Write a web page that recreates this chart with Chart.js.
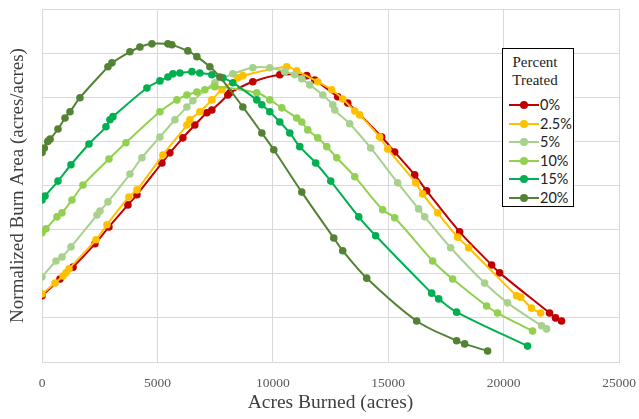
<!DOCTYPE html>
<html>
<head>
<meta charset="utf-8">
<script src="https://cdn.jsdelivr.net/npm/chart.js@4.4.1/dist/chart.umd.min.js"></script>
<style>
  html, body { margin: 0; padding: 0; background: #fff; }
  #wrap { position: relative; width: 639px; height: 419px; }
  #legend {
    position: absolute; left: 502px; top: 48px; width: 70px; height: 157px;
    border: 1.5px solid #000; background: #fff; box-sizing: content-box;
  }
  #legend .ttl {
    font-family: "Liberation Serif", serif; font-size: 15px; line-height: 18px;
    color: #222; text-align: center; margin-top: 4px; padding-right: 6px;
  }
  #legend .item { position: absolute; left: 6px; height: 18px; width: 66px; }
  #legend .ln { position: absolute; left: 0; top: 8px; width: 30px; height: 2px; }
  #legend .dot { position: absolute; left: 11px; top: 5px; width: 8px; height: 8px; border-radius: 50%; }
  #legend .lbl {
    position: absolute; left: 31px; top: 0; font-family: Lato, sans-serif;
    font-size: 14.5px; line-height: 18px; color: #222;
  }
</style>
</head>
<body>
<div id="wrap">
  <canvas id="c" width="639" height="419"></canvas>
  <div id="legend"></div>
</div>
<script>
// series labels and colours
const labels = ["0%", "2.5%", "5%", "10%", "15%", "20%"];
const colors = ["#C00000", "#FFC000", "#A9D18E", "#92D050", "#00B050", "#548235"];

// acres burned (x) / normalized burn area (y)
const x0 = [0, 779, 1342, 2294, 2900, 3723, 4113, 5195, 5541, 6104, 6623, 7143, 7359, 8052, 8139, 9134, 10303, 11472, 11818, 12814, 13247, 14719, 15281, 16147, 16667, 18095, 19481, 19827, 21991, 22251, 22511];
const y0 = [1.50, 1.88, 2.15, 2.68, 3.06, 3.56, 3.79, 4.51, 4.74, 5.08, 5.37, 5.65, 5.71, 6.05, 6.10, 6.35, 6.51, 6.49, 6.39, 6.01, 5.87, 5.10, 4.76, 4.24, 3.88, 2.95, 2.20, 2.02, 1.11, 1.00, 0.93];

const x25 = [0, 563, 909, 1039, 1169, 2338, 2814, 3766, 4113, 5238, 6277, 6407, 6840, 7359, 7792, 8485, 8701, 10606, 11039, 11948, 12554, 13030, 13550, 13766, 14632, 14978, 16190, 16494, 17143, 18009, 18485, 20563, 20736, 21212, 21602];
const y25 = [1.54, 1.79, 1.95, 2.02, 2.11, 2.77, 3.11, 3.74, 3.90, 4.69, 5.37, 5.49, 5.67, 5.94, 6.17, 6.44, 6.49, 6.69, 6.60, 6.35, 6.17, 5.96, 5.69, 5.60, 5.10, 4.83, 4.06, 3.81, 3.38, 2.83, 2.59, 1.50, 1.47, 1.22, 1.11];

const x5 = [0, 606, 866, 1255, 2381, 2511, 2857, 3810, 4329, 5108, 5758, 6277, 6537, 7489, 8268, 9134, 9870, 10519, 10952, 11255, 11602, 12165, 12597, 12684, 13333, 14242, 15411, 16320, 16580, 17706, 19177, 20173, 21645, 21861];
const y5 = [1.93, 2.29, 2.38, 2.61, 3.33, 3.42, 3.63, 4.26, 4.63, 5.10, 5.49, 5.78, 5.92, 6.33, 6.53, 6.67, 6.67, 6.58, 6.51, 6.42, 6.28, 6.05, 5.83, 5.71, 5.40, 4.85, 4.06, 3.47, 3.29, 2.59, 1.79, 1.34, 0.82, 0.75];

const x10 = [0, 173, 649, 866, 1299, 1775, 2900, 3636, 5108, 5844, 6277, 6710, 7056, 7489, 9307, 9870, 10390, 11039, 11255, 11515, 11948, 12338, 12771, 13550, 14762, 15281, 16926, 17792, 19264, 19740, 21255];
const y10 = [2.93, 3.02, 3.29, 3.38, 3.67, 4.01, 4.60, 4.97, 5.67, 5.94, 6.05, 6.12, 6.17, 6.24, 6.10, 5.94, 5.76, 5.53, 5.44, 5.26, 5.08, 4.88, 4.63, 4.20, 3.45, 3.27, 2.29, 1.88, 1.27, 1.11, 0.70];

const x15 = [0, 130, 693, 1255, 2035, 2771, 2944, 3074, 4545, 5108, 5455, 5671, 5974, 6494, 6840, 7359, 7835, 8268, 9307, 9524, 9870, 10303, 10736, 11169, 11861, 12511, 13723, 14459, 16883, 17186, 17965, 21039];
const y15 = [3.67, 3.76, 4.10, 4.47, 4.94, 5.33, 5.49, 5.56, 6.21, 6.37, 6.46, 6.53, 6.55, 6.58, 6.55, 6.51, 6.44, 6.33, 5.94, 5.83, 5.67, 5.44, 5.19, 4.88, 4.51, 4.10, 3.29, 2.86, 1.56, 1.43, 1.13, 0.36];

const x20 = [0, 100, 250, 350, 693, 996, 1212, 1645, 2857, 3030, 3810, 4242, 4762, 5455, 5628, 6320, 6710, 7273, 7706, 8701, 9524, 10043, 11255, 12641, 13030, 14069, 16234, 17965, 18312, 19307];
const y20 = [4.75, 4.85, 5.00, 5.05, 5.28, 5.53, 5.67, 5.99, 6.69, 6.78, 7.03, 7.14, 7.21, 7.21, 7.19, 7.05, 6.92, 6.69, 6.46, 5.78, 5.19, 4.81, 3.85, 2.81, 2.52, 1.90, 0.93, 0.48, 0.41, 0.25];

const xTicks = [0, 5000, 10000, 15000, 20000, 25000];

const seriesX = [x0, x25, x5, x10, x15, x20];
const seriesY = [y0, y25, y5, y10, y15, y20];

const datasets = labels.map((lab, i) => ({
  label: lab,
  data: seriesX[i].map((x, j) => ({ x: x, y: seriesY[i][j] })),
  showLine: true,
  borderColor: colors[i],
  backgroundColor: colors[i],
  borderWidth: 2,
  pointRadius: 3.8,
  pointBorderWidth: 0,
  tension: 0.35,
  order: labels.length - 1 - i,
}));

const serif = "'Liberation Serif', 'Times New Roman', serif";

new Chart(document.getElementById("c"), {
  type: "scatter",
  data: { datasets },
  options: {
    responsive: false,
    animation: false,
    layout: { padding: { top: 9, right: 20, left: 0, bottom: 0 } },
    plugins: { legend: { display: false }, tooltip: { enabled: false } },
    scales: {
      x: {
        type: "linear", min: 0, max: 25000,
        afterBuildTicks: (s) => { s.ticks = xTicks.map(v => ({ value: v })); },
        afterFit: (s) => { s.height = 57; s.paddingRight = 0; s.paddingLeft = 0; },
        grid: { color: "#d9d9d9", drawTicks: false },
        border: { color: "#d9d9d9" },
        ticks: { padding: 13, color: "#595959", font: { family: serif, size: 13.5 },
                 callback: (v) => String(v) },
        title: { display: true, text: "Acres Burned (acres)", color: "#404040",
                 font: { family: serif, size: 19.5 }, padding: { top: 3 } },
      },
      y: {
        min: 0, max: 8,
        ticks: { stepSize: 1, display: false },
        afterFit: (s) => { s.width = 42; s.paddingTop = 0; s.paddingBottom = 0; },
        grid: { color: "#d9d9d9", drawTicks: false },
        border: { color: "#d9d9d9" },
        title: { display: true, text: "Normalized Burn Area (acres/acres)", color: "#404040",
                 font: { family: serif, size: 19 }, padding: { top: 7, bottom: 0 } },
      },
    },
  },
});

// legend box inside the plot
const lg = document.getElementById("legend");
lg.innerHTML = '<div class="ttl">Percent<br>Treated</div>' +
  labels.map((lab, i) => `
    <div class="item" style="top:${47 + i * 18.6}px">
      <div class="ln" style="background:${colors[i]}"></div>
      <div class="dot" style="background:${colors[i]}"></div>
      <div class="lbl">${lab}</div>
    </div>`).join("");
</script>
</body>
</html>
